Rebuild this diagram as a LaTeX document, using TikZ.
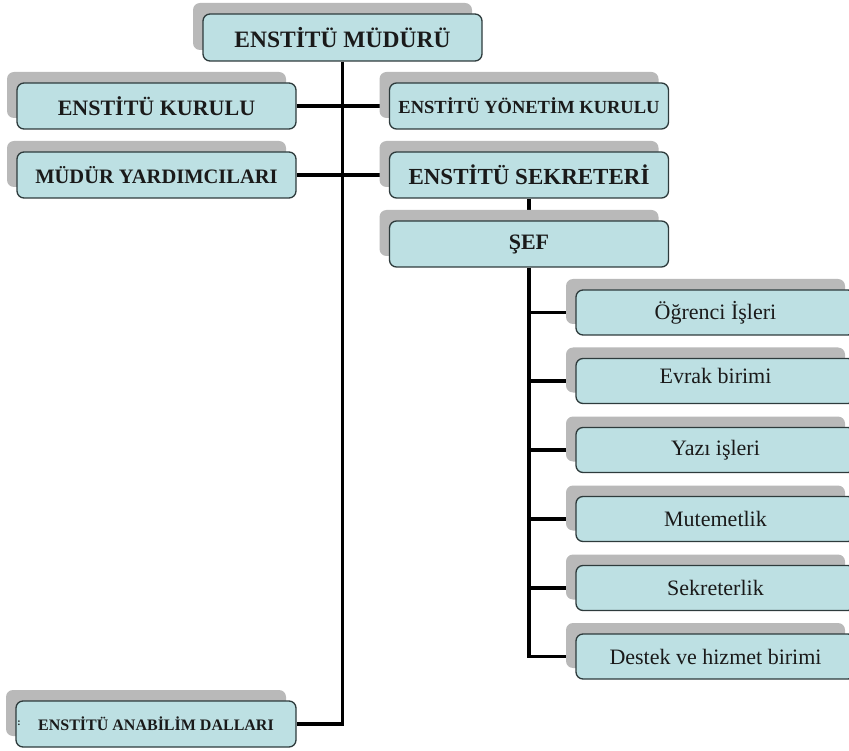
\documentclass[tikz,border=0pt]{standalone}
\usepackage{fontspec}
\setmainfont{Liberation Serif}
\usetikzlibrary{shadows,backgrounds}
\definecolor{boxfill}{HTML}{BDE0E3}
\definecolor{boxline}{HTML}{2E3B3C}
\definecolor{shadowcol}{HTML}{B9B9B9}
\definecolor{txt}{HTML}{1A1A1A}
\tikzset{
  orgbox/.style={draw=boxline, line width=1.3pt, rounded corners=7pt, fill=boxfill,
    minimum width=279pt, minimum height=46pt, inner sep=0pt, text=txt,
    general shadow={shadow xshift=-10pt, shadow yshift=11pt, fill=shadowcol}},
  bigtxt/.style={font=\fontsize{#1}{24}\selectfont\bfseries},
  subbox/.style={orgbox, minimum height=45pt, font=\fontsize{22}{24}\selectfont},
  conn/.style={line width=3.4pt, black}
}
\begin{document}
\begin{tikzpicture}[x=1pt,y=-1pt]
\useasboundingbox (0,0) rectangle (849,751);
\clip (0,0) rectangle (849,751);
\node[orgbox, bigtxt=23.5, minimum height=47pt] (mud) at (342.5,37.5) {ENSTİTÜ MÜDÜRÜ};
\node[orgbox, bigtxt=22] (kur) at (156.5,106) {ENSTİTÜ KURULU};
\node[orgbox, bigtxt=18.5] (yon) at (529,106) {ENSTİTÜ YÖNETİM KURULU};
\node[orgbox, bigtxt=20.5] (yard) at (156.5,175) {MÜDÜR YARDIMCILARI};
\node[orgbox, bigtxt=23] (sek) at (529,175) {ENSTİTÜ SEKRETERİ};
\node[orgbox, bigtxt=22] (sef) at (529,244) {ŞEF};
\node[subbox] (s1) at (715.5,312.5) {Öğrenci İşleri};
\node[subbox, text height=16pt, text depth=10pt] (s2) at (715.5,381) {Evrak birimi};
\node[subbox] (s3) at (715.5,450) {Yazı işleri};
\node[subbox] (s4) at (715.5,519) {Mutemetlik};
\node[subbox] (s5) at (715.5,588) {Sekreterlik};
\node[subbox] (s6) at (715.5,656.5) {Destek ve hizmet birimi};
\node[orgbox, minimum width=280pt, bigtxt=16] (ana) at (156,724) {ENSTİTÜ ANABİLİM DALLARI};
\node[text=txt, font=\fontsize{10}{11}\selectfont\bfseries, inner sep=0pt] (mark) at (19,723) {:};
\begin{scope}[on background layer]
\draw[conn] (mud.south) |- (ana.east);
\draw[conn] (kur.east) -- (yon.west);
\draw[conn] (yard.east) -- (sek.west);
\draw[conn] (sek.south) -- (sef.north);
\draw[conn] (sef.south) |- (s6.west);
\foreach \s in {s1,s2,s3,s4,s5}{
  \draw[conn] (sef.south |- \s.west) -- (\s.west);
}
\end{scope}
\end{tikzpicture}
\end{document}
